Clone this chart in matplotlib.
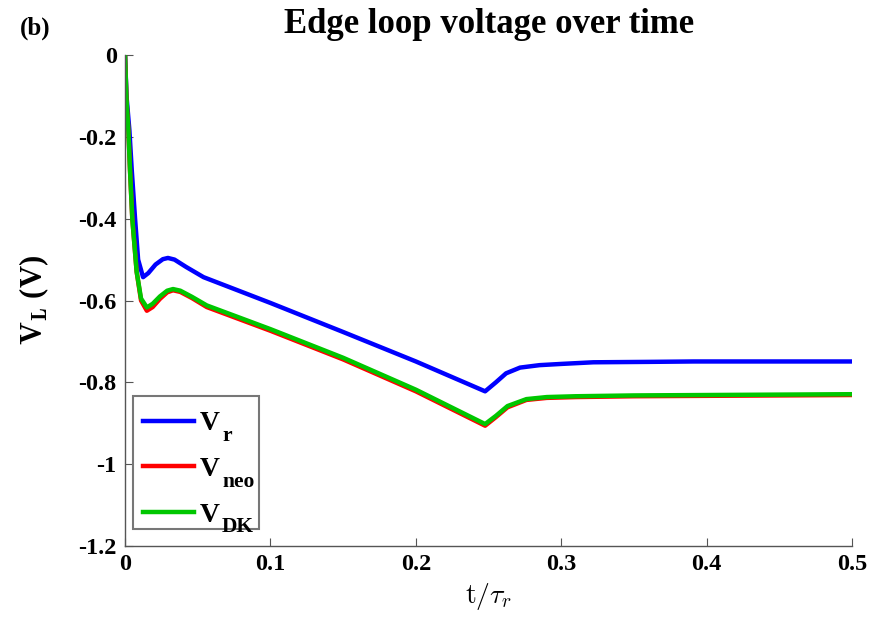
import matplotlib
matplotlib.use("Agg")
import matplotlib.pyplot as plt
from matplotlib.patches import Rectangle
from matplotlib.transforms import IdentityTransform
import numpy as np

# time samples (t / tau_r)
t_r = [0.0, 0.001, 0.003, 0.0046, 0.0069, 0.009, 0.0124, 0.016, 0.021, 0.026, 0.0295, 0.034,
       0.042, 0.054, 0.1, 0.15, 0.2, 0.2476, 0.255, 0.262, 0.2716, 0.285, 0.3, 0.322, 0.36, 0.391, 0.44, 0.4998]
V_r = [0.0, -0.10, -0.184, -0.28, -0.40, -0.50, -0.543, -0.533, -0.512, -0.499, -0.496, -0.500,
       -0.518, -0.543, -0.606, -0.677, -0.749, -0.822, -0.800, -0.778, -0.764, -0.758, -0.755, -0.751, -0.750, -0.749, -0.749, -0.749]

t_g = [0.0, 0.001, 0.0023, 0.0034, 0.005, 0.008, 0.011, 0.015, 0.019, 0.024, 0.029, 0.033,
       0.038, 0.046, 0.0562, 0.1, 0.15, 0.2, 0.2476, 0.255, 0.263, 0.276, 0.29, 0.31, 0.35, 0.4, 0.45, 0.4998]
V_neo = [0.0, -0.11, -0.184, -0.28, -0.40, -0.53, -0.60, -0.625, -0.616, -0.596, -0.580, -0.575,
         -0.579, -0.594, -0.616, -0.674, -0.744, -0.822, -0.906, -0.885, -0.861, -0.843, -0.838, -0.836, -0.834, -0.833, -0.832, -0.831]
V_DK = [0.0, -0.11, -0.184, -0.28, -0.40, -0.53, -0.595, -0.617, -0.608, -0.590, -0.576, -0.572,
        -0.576, -0.591, -0.612, -0.670, -0.740, -0.818, -0.902, -0.882, -0.858, -0.841, -0.836, -0.834, -0.832, -0.831, -0.830, -0.829]

xticks = [0, 0.1, 0.2, 0.3, 0.4, 0.5]
xticklabels = ["0", "0.1", "0.2", "0.3", "0.4", "0.5"]
yticks = [0, -0.2, -0.4, -0.6, -0.8, -1.0, -1.2]
yticklabels = ["0", "-0.2", "-0.4", "-0.6", "-0.8", "-1", "-1.2"]
legend_subs = ['r', 'neo', 'DK']

plt.rcParams['font.family'] = ['Liberation Serif', 'DejaVu Serif']
plt.rcParams['mathtext.fontset'] = 'cm'

fig = plt.figure(figsize=(8.83, 6.23), dpi=100)
ax = fig.add_axes([0.1416, 0.1236, 0.8235, 0.7881])

lw = 3.2
ax.plot(t_r, V_r, color=(0, 0, 1), lw=lw, label='V', solid_joinstyle='round')
ax.plot(t_g, V_neo, color=(1, 0, 0), lw=lw, label='V', solid_joinstyle='round')
ax.plot(t_g, V_DK, color=(0, 0.78, 0), lw=lw, label='V', solid_joinstyle='round')

ax.set_xlim(0, 0.5)
ax.set_ylim(-1.2, 0)
ax.set_xticks(xticks)
ax.set_xticklabels(xticklabels)
ax.set_yticks(yticks)
ax.set_yticklabels(yticklabels)
for lab in ax.get_xticklabels() + ax.get_yticklabels():
    lab.set_fontweight('bold')
    lab.set_fontsize(17.5)

ax.spines['top'].set_visible(False)
ax.spines['right'].set_visible(False)
for s in ['left', 'bottom']:
    ax.spines[s].set_color('#555555')
    ax.spines[s].set_linewidth(1.0)
ax.tick_params(direction='in', length=6, color='#555555', width=0.8, pad=6)

ax.set_xlabel(r'$\mathrm{t}/\tau_r$', fontsize=20, labelpad=4)
ax.set_ylabel(r'$\mathbf{V_L}$ (V)', fontsize=22, fontweight='bold', labelpad=20)
ax.set_title('Edge loop voltage over time', fontsize=25, fontweight='bold', pad=16)
fig.text(0.022, 0.955, '(b)', fontsize=18, fontweight='bold', ha='left', va='center')

# legend (frame drawn separately so the subscripts fit inside it)
leg = ax.legend(loc='upper left', bbox_to_anchor=((143 - 125) / 727.0, (546 - 411) / 491.0),
                fontsize=20, frameon=False, handlelength=1.83, borderpad=0.0,
                labelspacing=0.73, handletextpad=0.22, borderaxespad=0.0)
leg.set_zorder(6)
for txt in leg.get_texts():
    txt.set_fontweight('bold')
fig.canvas.draw()
renderer = fig.canvas.get_renderer()
lb = leg.get_window_extent(renderer)
centers = []
sub_right = 0
for txt, sub in zip(leg.get_texts(), legend_subs):
    bb = txt.get_window_extent(renderer)
    cy = 0.5 * (bb.y0 + bb.y1)
    centers.append(cy)
    st = ax.text(bb.x1 + 2, cy - 12, sub, fontsize=15.5, fontweight='bold',
                 ha='left', va='center', transform=IdentityTransform(), zorder=7)
    sb = st.get_window_extent(renderer)
    sub_right = max(sub_right, sb.x1)

x0 = lb.x0 - 10
x1 = sub_right + 5
y1 = centers[0] + 28
y0 = centers[-1] - 14
inv = ax.transAxes.inverted()
(ax0, ay0) = inv.transform((x0, y0))
(ax1, ay1) = inv.transform((x1, y1))
ax.add_patch(Rectangle((ax0, ay0), ax1 - ax0, ay1 - ay0, transform=ax.transAxes,
                       facecolor='white', edgecolor='#777777', lw=1.5, zorder=4.5,
                       clip_on=False))

fig.savefig('out.png', dpi=100)
